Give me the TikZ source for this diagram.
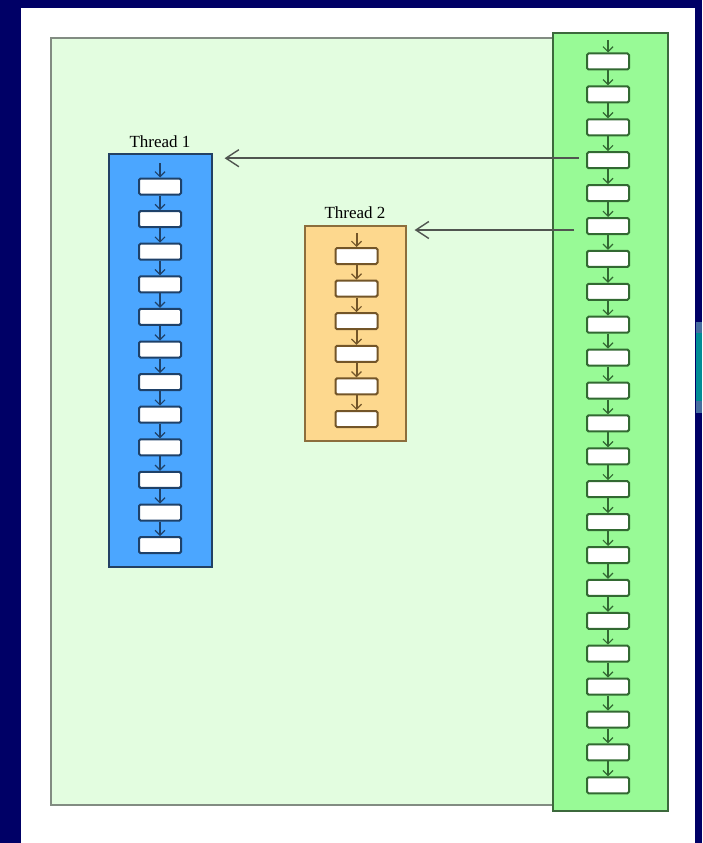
\documentclass[tikz,border=0pt]{standalone}
\usepackage{fontspec}
\setmainfont{Liberation Serif}
\usetikzlibrary{arrows.meta}
\definecolor{navybg}{RGB}{0,0,102}
\definecolor{paleg}{RGB}{227,253,224}
\definecolor{paleline}{RGB}{130,140,130}
\definecolor{colg}{RGB}{152,250,150}
\definecolor{colgline}{RGB}{60,105,60}
\definecolor{boxg}{RGB}{50,105,50}
\definecolor{colb}{RGB}{75,166,255}
\definecolor{colbline}{RGB}{35,65,100}
\definecolor{boxb}{RGB}{30,65,105}
\definecolor{colo}{RGB}{253,216,142}
\definecolor{cololine}{RGB}{140,110,60}
\definecolor{boxo}{RGB}{115,85,40}
\definecolor{tealstrip}{RGB}{0,140,150}
\definecolor{steelstrip}{RGB}{70,110,160}
\definecolor{bigline}{RGB}{80,85,80}
\tikzset{
  panel/.style={draw, line width=1.6pt, anchor=north west, inner sep=0pt},
  taskbox/.style={draw, line width=2pt, fill=white, rounded corners=1.5pt,
    minimum width=42pt, minimum height=16pt, inner sep=0pt},
  flow/.style={line width=2pt, -{Straight Barb[length=5pt,width=10pt,line width=1.2pt]}},
  bigarrow/.style={draw=bigline, line width=1.6pt, -{Straight Barb[length=13pt,width=17pt,line width=1.4pt]}},
  label/.style={font=\fontsize{17}{20}\selectfont, anchor=base}
}
\begin{document}
\begin{tikzpicture}[x=1pt,y=-1pt]
\useasboundingbox (0,0) rectangle (702,843);
\fill[navybg] (0,0) rectangle (702,843);
\fill[white] (21,8) rectangle (695,843);
\fill[steelstrip] (696,322) rectangle (702,413);
\fill[tealstrip] (696,333) rectangle (702,401);

% main pale panel
\node[panel, draw=paleline, fill=paleg, minimum width=502pt, minimum height=767pt] (main) at (50,37) {};
% green column
\node[panel, draw=colgline, fill=colg, minimum width=115pt, minimum height=778pt] (gcol) at (552,32) {};
% thread 1
\node[panel, draw=colbline, fill=colb, minimum width=103pt, minimum height=413pt] (blue) at (108,153) {};
% thread 2
\node[panel, draw=cololine, fill=colo, minimum width=101pt, minimum height=215pt] (orange) at (304,225) {};

\node[label] (lab1) at (160,147) {Thread 1};
\node[label] (lab2) at (355,218) {Thread 2};

% green boxes
\coordinate (gs) at (608,40);
\foreach \i in {1,...,23} {
  \node[taskbox, draw=boxg] (g\i) at (608,{61.5+32.9*(\i-1)}) {};
}
\draw[flow, boxg] (gs) -- (g1.north);
\foreach \i [evaluate=\i as \p using int(\i-1)] in {2,...,23} {
  \draw[flow, boxg] (g\p.south) -- (g\i.north);
}

% blue boxes
\coordinate (bs) at (160,163);
\foreach \i in {1,...,12} {
  \node[taskbox, draw=boxb] (b\i) at (160,{186.5+32.6*(\i-1)}) {};
}
\draw[flow, boxb] (bs) -- (b1.north);
\foreach \i [evaluate=\i as \p using int(\i-1)] in {2,...,12} {
  \draw[flow, boxb] (b\p.south) -- (b\i.north);
}

% orange boxes
\coordinate (os) at (356.5,233);
\foreach \i in {1,...,6} {
  \node[taskbox, draw=boxo] (o\i) at (356.5,{256+32.6*(\i-1)}) {};
}
\draw[flow, boxo] (os) -- (o1.north);
\foreach \i [evaluate=\i as \p using int(\i-1)] in {2,...,6} {
  \draw[flow, boxo] (o\p.south) -- (o\i.north);
}

% spawn arrows
\coordinate (a1s) at ([xshift=-7pt,yshift=2pt]g4.west);
\coordinate (a2s) at ([xshift=-12pt,yshift=-4pt]g6.west);
\draw[bigarrow, shorten >=12pt] (a1s) -- (blue.east |- a1s);
\draw[bigarrow, shorten >=8pt] (a2s) -- (orange.east |- a2s);
\end{tikzpicture}
\end{document}
